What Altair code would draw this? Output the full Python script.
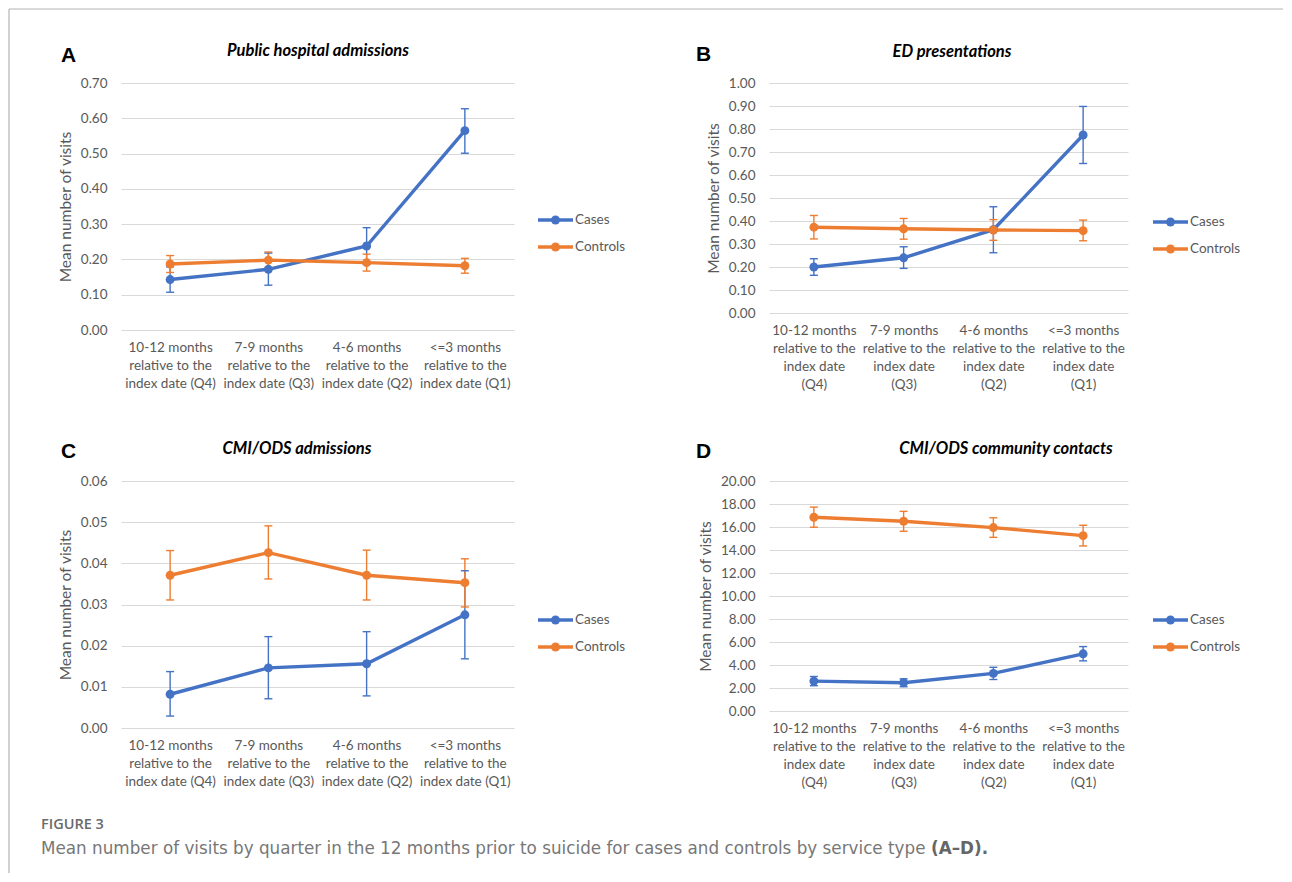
import json
import pandas as pd
import altair as alt

# ---------------- data ----------------
quarters = ["Q4", "Q3", "Q2", "Q1"]
labels_3 = [
    ["10-12 months", "relative to the", "index date (Q4)"],
    ["7-9 months", "relative to the", "index date (Q3)"],
    ["4-6 months", "relative to the", "index date (Q2)"],
    ["<=3 months", "relative to the", "index date (Q1)"],
]
labels_4 = [
    ["10-12 months", "relative to the", "index date", "(Q4)"],
    ["7-9 months", "relative to the", "index date", "(Q3)"],
    ["4-6 months", "relative to the", "index date", "(Q2)"],
    ["<=3 months", "relative to the", "index date", "(Q1)"],
]
series_names = ["Cases", "Controls"]
series_colors = ["#4472C4", "#ED7D31"]

# A: Public hospital admissions
A_cases = [0.143, 0.172, 0.238, 0.565]
A_cases_lo = [0.107, 0.127, 0.187, 0.501]
A_cases_hi = [0.179, 0.218, 0.290, 0.627]
A_ctrl = [0.187, 0.198, 0.191, 0.182]
A_ctrl_lo = [0.163, 0.176, 0.167, 0.161]
A_ctrl_hi = [0.211, 0.221, 0.215, 0.203]

# B: ED presentations
B_cases = [0.200, 0.240, 0.362, 0.774]
B_cases_lo = [0.164, 0.194, 0.262, 0.650]
B_cases_hi = [0.236, 0.288, 0.462, 0.898]
B_ctrl = [0.373, 0.366, 0.361, 0.358]
B_ctrl_lo = [0.322, 0.321, 0.316, 0.314]
B_ctrl_hi = [0.424, 0.411, 0.406, 0.404]

# C: CMI/ODS admissions
C_cases = [0.0082, 0.0146, 0.0156, 0.0275]
C_cases_lo = [0.0029, 0.0071, 0.0078, 0.0168]
C_cases_hi = [0.0137, 0.0222, 0.0234, 0.0382]
C_ctrl = [0.0371, 0.0426, 0.0371, 0.0353]
C_ctrl_lo = [0.0311, 0.0362, 0.0311, 0.0294]
C_ctrl_hi = [0.0431, 0.0491, 0.0432, 0.0411]

# D: CMI/ODS community contacts
D_cases = [2.60, 2.46, 3.27, 4.97]
D_cases_lo = [2.20, 2.11, 2.74, 4.36]
D_cases_hi = [3.00, 2.80, 3.80, 5.60]
D_ctrl = [16.85, 16.50, 15.95, 15.25]
D_ctrl_lo = [15.98, 15.63, 15.10, 14.35]
D_ctrl_hi = [17.73, 17.36, 16.80, 16.15]

caption_head = "FIGURE 3"
caption_text = "Mean number of visits by quarter in the 12 months prior to suicide for cases and controls by service type"
caption_bold = "(A\u2013D)"
caption_end = "."

# ---------------- helpers ----------------
FONT = "Lato"
GRAY = "#595959"
GRID = "#d9d9d9"
one = pd.DataFrame({"k": [0]})
SC = alt.Scale(domain=series_names, range=series_colors)
MARKER = 80
LINE_W = 3.4


def make_df(cm, cl, ch, tm, tl, th):
    rows = []
    for s, (m, lo, hi) in zip(series_names, [(cm, cl, ch), (tm, tl, th)]):
        for q, a, b, c in zip(quarters, m, lo, hi):
            rows.append({"quarter": q, "series": s,
                         "mean": a, "lo": b, "hi": c})
    return pd.DataFrame(rows)


def text_mark(txt, x, y, **kw):
    return alt.Chart(one).mark_text(text=txt, **kw).encode(
        x=alt.value(x), y=alt.value(y))


def legend_layers(lx, rows_y):
    """Legend entries (line + marker + label) coloured by the series scale."""
    out = []
    for name, ry in zip(series_names, rows_y):
        d = pd.DataFrame({"series": [name]})
        col = alt.Color("series:N", scale=SC, legend=None)
        out.append(alt.Chart(d).mark_rule(strokeWidth=LINE_W).encode(
            x=alt.value(lx), x2=alt.value(lx + 35), y=alt.value(ry),
            color=col))
        out.append(alt.Chart(d).mark_circle(size=MARKER, opacity=1).encode(
            x=alt.value(lx + 17.5), y=alt.value(ry), color=col))
        out.append(alt.Chart(d).mark_text(
            font=FONT, fontSize=13.5, color=GRAY, align="left",
            baseline="middle").encode(
            x=alt.value(lx + 37), y=alt.value(ry), text="series:N"))
    return out


def panel(df, letter, title, title_x, ymax, ystep, labels, width, height,
          legend_x, legend_rows, letter_x, letter_y, title_y, extra=None):
    label_map = {q: l for q, l in zip(quarters, labels)}
    label_expr = json.dumps(label_map) + "[datum.value]"
    n = int(round(ymax / ystep))
    yvals = [round(i * ystep, 6) for i in range(n + 1)]

    x = alt.X("quarter:N", sort=quarters,
              scale=alt.Scale(type="point", padding=0.5),
              axis=alt.Axis(title=None, labelExpr=label_expr, labelAngle=0,
                            ticks=False, domain=False, grid=False,
                            labelFont=FONT, labelFontSize=13.5, labelColor=GRAY,
                            labelPadding=10, labelLineHeight=18))
    ysc = alt.Scale(domain=[0, ymax], nice=False, zero=True)
    yaxis = alt.Axis(title="Mean number of visits", values=yvals, format=".2f",
                     grid=True, gridColor=GRID, gridWidth=1, domain=False,
                     ticks=False, labelPadding=14, labelFont=FONT,
                     labelFontSize=13.5, labelColor=GRAY, titleFont=FONT,
                     titleFontSize=15.5, titleFontWeight="normal",
                     titleColor=GRAY, titlePadding=7, labelOverlap=False)
    col = alt.Color("series:N", scale=SC, legend=None)

    base = alt.Chart(df)
    line = base.mark_line(strokeWidth=LINE_W).encode(
        x=x, y=alt.Y("mean:Q", scale=ysc, axis=yaxis), color=col)
    rule = base.mark_rule(strokeWidth=1.4).encode(
        x=x, y=alt.Y("lo:Q", scale=ysc, axis=yaxis), y2="hi:Q", color=col)
    cap_lo = base.mark_tick(thickness=1.4, size=8, opacity=1).encode(
        x=x, y=alt.Y("lo:Q", scale=ysc, axis=yaxis), color=col)
    cap_hi = base.mark_tick(thickness=1.4, size=8, opacity=1).encode(
        x=x, y=alt.Y("hi:Q", scale=ysc, axis=yaxis), color=col)
    pts = base.mark_circle(size=MARKER, opacity=1).encode(
        x=x, y=alt.Y("mean:Q", scale=ysc, axis=yaxis), color=col)
    let = text_mark(letter, letter_x, letter_y, font="Liberation Sans",
                    fontWeight="bold", fontSize=21, align="left",
                    baseline="alphabetic", color="black")
    ttl = text_mark(title, title_x, title_y, font=FONT, fontSize=16.5,
                    fontWeight="bold", fontStyle="italic", color="black",
                    align="center", baseline="alphabetic")
    layers = [line, rule, cap_lo, cap_hi, pts, let, ttl]
    layers += legend_layers(legend_x, legend_rows)
    if extra:
        layers += extra
    return alt.layer(*layers).properties(width=width, height=height)


dfA = make_df(A_cases, A_cases_lo, A_cases_hi, A_ctrl, A_ctrl_lo, A_ctrl_hi)
dfB = make_df(B_cases, B_cases_lo, B_cases_hi, B_ctrl, B_ctrl_lo, B_ctrl_hi)
dfC = make_df(C_cases, C_cases_lo, C_cases_hi, C_ctrl, C_ctrl_lo, C_ctrl_hi)
dfD = make_df(D_cases, D_cases_lo, D_cases_hi, D_ctrl, D_ctrl_lo, D_ctrl_hi)

# page frame (top and left border lines), relative to panel A plot origin
frame = [
    alt.Chart(one).mark_rule(color="#b4b4b4", strokeWidth=1.2).encode(
        x=alt.value(-112), x2=alt.value(1162), y=alt.value(-74)),
    alt.Chart(one).mark_rule(color="#b4b4b4", strokeWidth=1.2).encode(
        x=alt.value(-112), y=alt.value(-74), y2=alt.value(790)),
]

# caption, relative to panel C plot origin
caption = [
    text_mark(caption_head, -80, 348, font="Open Sans", fontSize=14.5,
              fontWeight=600, color="#6a6a6a", align="left",
              baseline="alphabetic"),
    text_mark(caption_text, -80, 373, font="DejaVu Sans", fontSize=16.8,
              color="#777777", align="left", baseline="alphabetic"),
    text_mark(caption_bold + caption_end, 810, 373, font="DejaVu Sans",
              fontSize=16.8, fontWeight="bold", color="#666666",
              align="left", baseline="alphabetic"),
]

pA = panel(dfA, "A", "Public hospital admissions", 197, 0.70, 0.10, labels_3,
           393, 247, 417, [137, 164], -60, -21, -27, extra=frame)
pB = panel(dfB, "B", "ED presentations", 183, 1.00, 0.10, labels_4,
           359, 230, 384, [139, 166], -73, -22, -26)
pC = panel(dfC, "C", "CMI/ODS admissions", 176, 0.06, 0.01, labels_3,
           393, 247, 417, [139, 166], -60, -23, -27, extra=caption)
pD = panel(dfD, "D", "CMI/ODS community contacts", 237, 20.0, 2.0, labels_4,
           359, 230, 384, [139, 166], -73, -23, -27)

chart = alt.concat(pA, pB, pC, pD, columns=2,
                   spacing={"row": 151, "column": 255},
                   bounds="flush").resolve_scale(
    x="independent", y="independent").properties(
    padding={"left": 0, "top": 0, "right": 0, "bottom": 0}
).configure_view(stroke=None)

chart.save("out.html", embed_options={"renderer": "svg", "actions": False})
